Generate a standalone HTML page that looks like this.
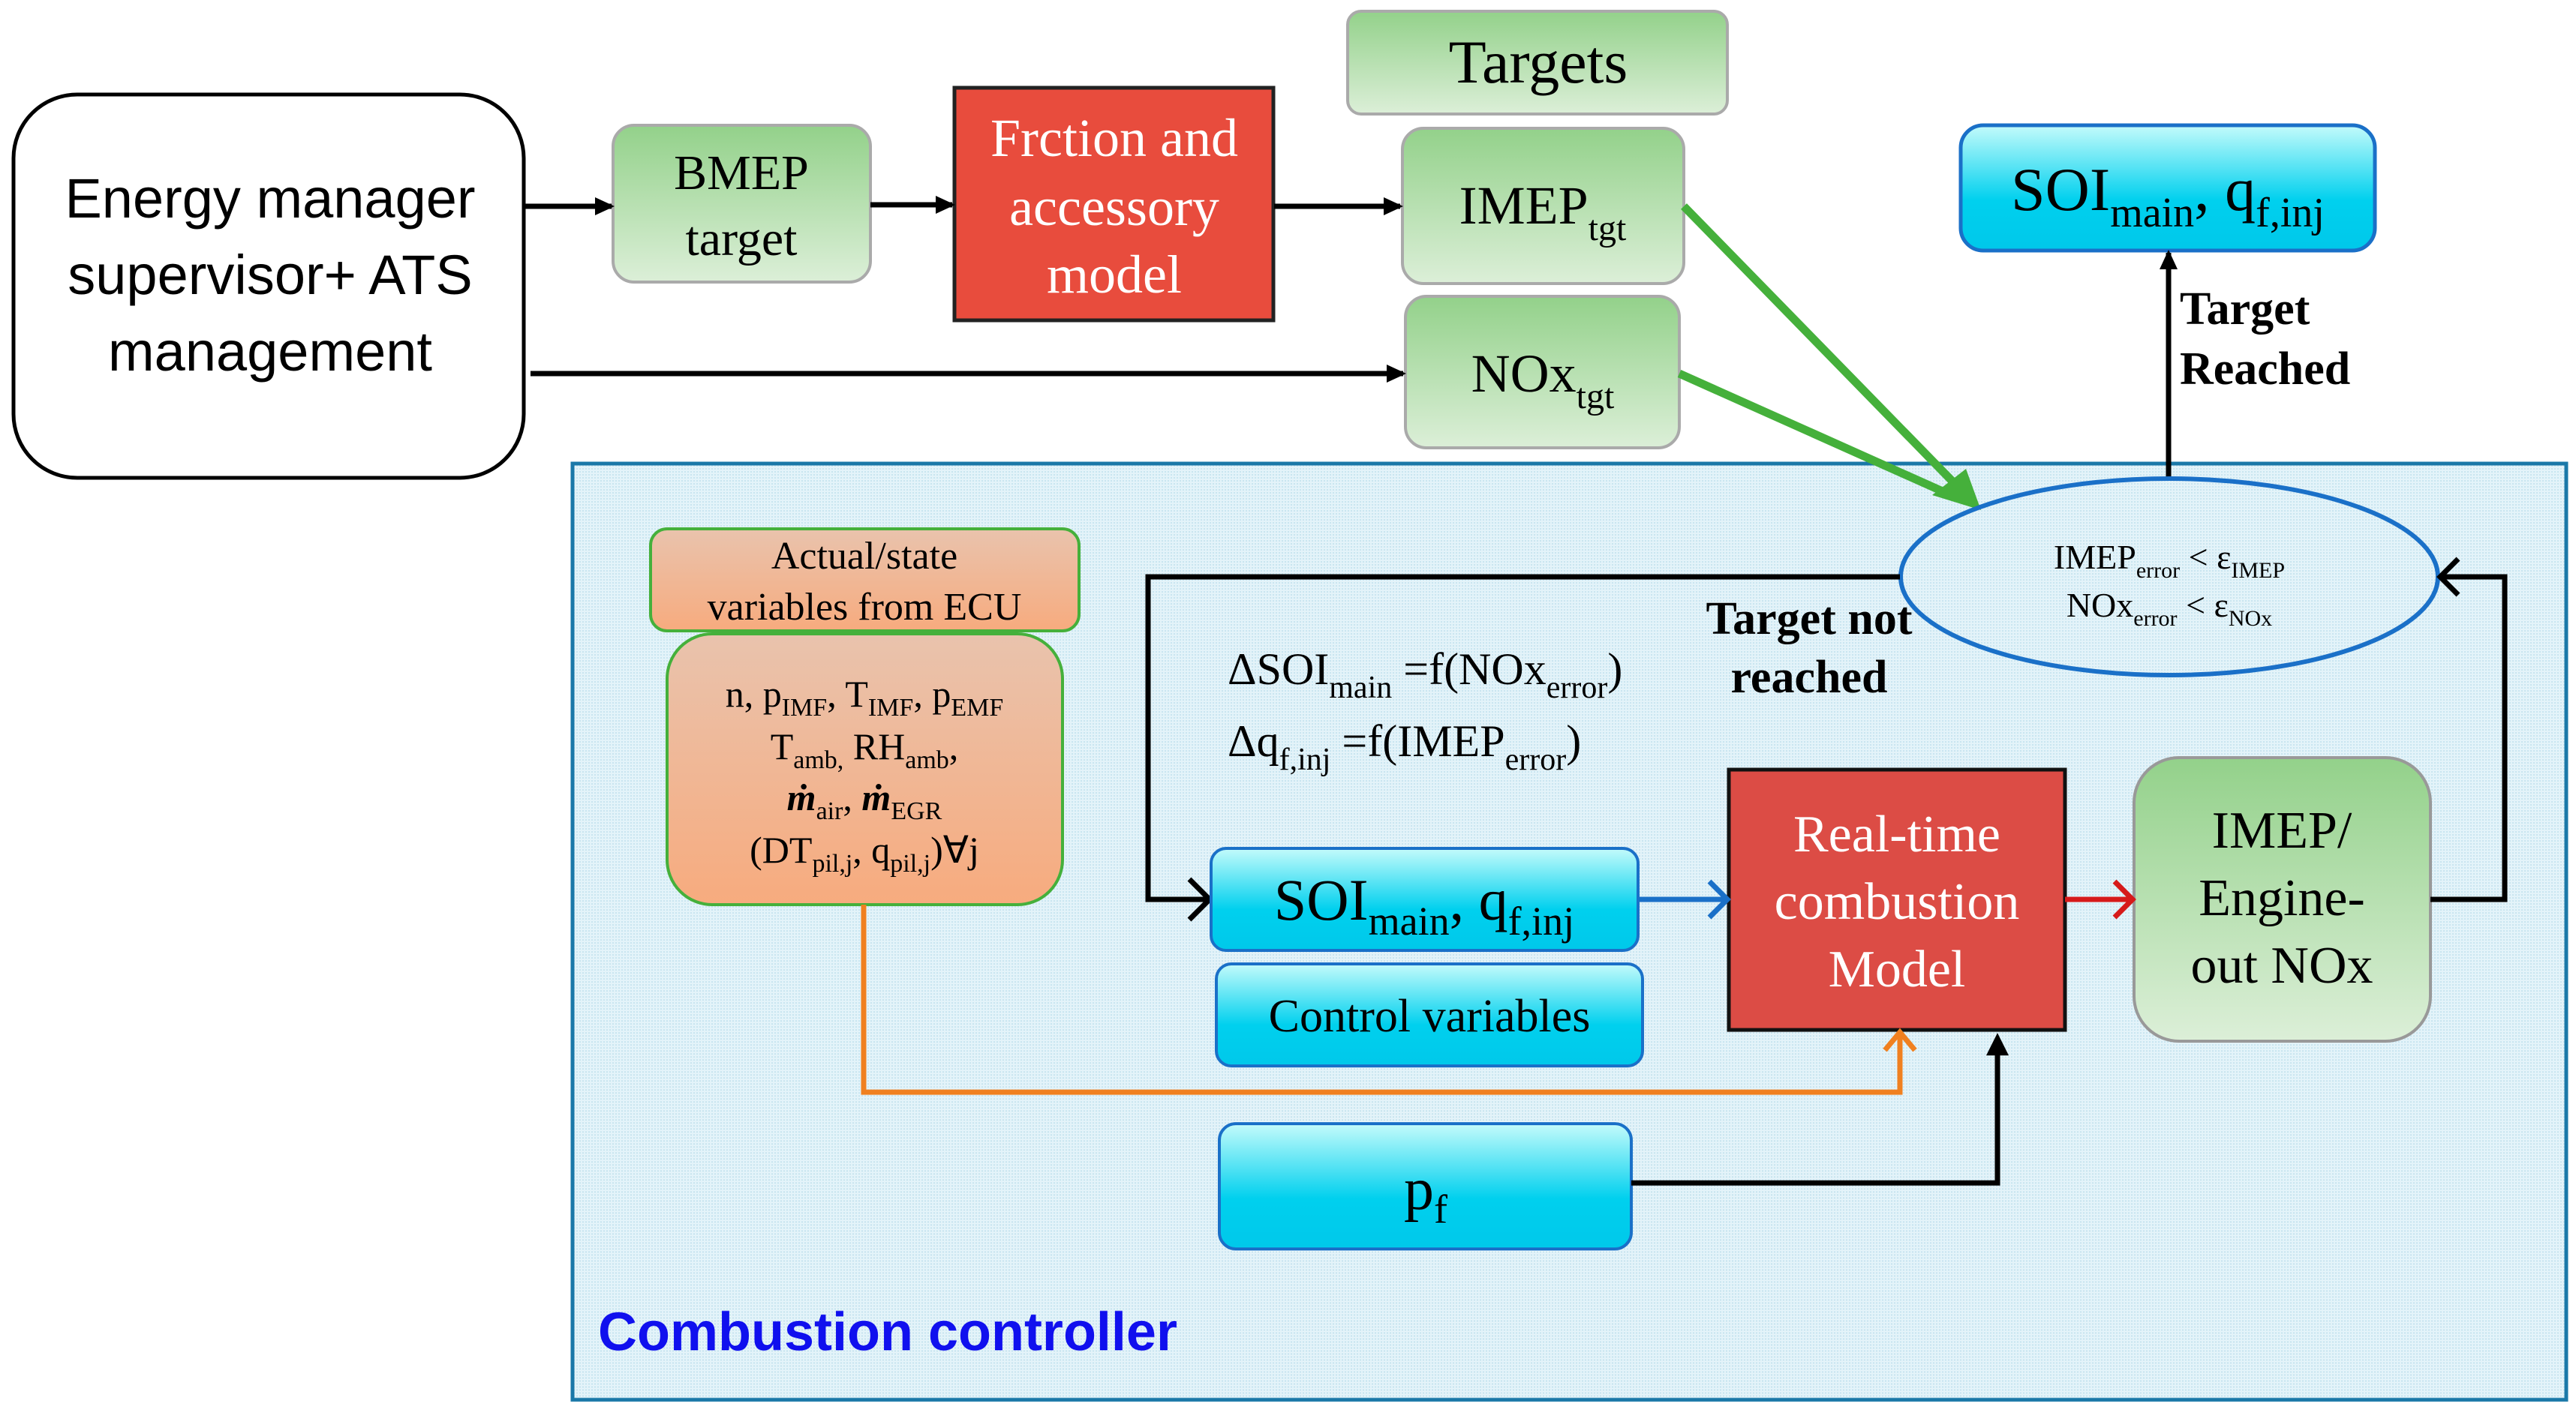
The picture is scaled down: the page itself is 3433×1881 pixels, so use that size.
<!DOCTYPE html>
<html><head><meta charset="utf-8"><style>
html,body{margin:0;padding:0;background:#fff}
svg{display:block}
.s{font-family:"Liberation Serif",serif}
.a{font-family:"Liberation Sans",sans-serif}
</style></head><body>
<svg width="3433" height="1881" viewBox="0 0 3433 1881" xmlns="http://www.w3.org/2000/svg">
<defs>
<linearGradient id="g" x1="0" y1="0" x2="0" y2="1"><stop offset="0" stop-color="#93d18a"/><stop offset="1" stop-color="#dcefd8"/></linearGradient>
<linearGradient id="c" x1="0" y1="0" x2="0" y2="1"><stop offset="0" stop-color="#c4fbfb"/><stop offset="0.6" stop-color="#00d0ee"/><stop offset="1" stop-color="#00c8ea"/></linearGradient>
<linearGradient id="o" x1="0" y1="0" x2="0" y2="1"><stop offset="0" stop-color="#e9c3ad"/><stop offset="1" stop-color="#f7ab7e"/></linearGradient>
<pattern id="dots" width="4" height="4" patternUnits="userSpaceOnUse"><rect width="4" height="4" fill="#e3f3f9"/><rect width="2" height="2" fill="#c9e5f0"/></pattern>
<marker id="ak" markerWidth="26" markerHeight="24" refX="22" refY="12" orient="auto" markerUnits="userSpaceOnUse" viewBox="0 0 26 24"><path d="M0,0 L26,12 L0,24 z" fill="#000"/></marker>
</defs>

<rect x="763" y="618" width="2657" height="1248" fill="url(#dots)" stroke="#1a78a8" stroke-width="5"/>

<rect x="18" y="126" width="680" height="511" rx="85" fill="#fff" stroke="#000" stroke-width="5"/>
<g class="a" font-size="74" text-anchor="middle" fill="#000">
<text x="360" y="290">Energy manager</text>
<text x="360" y="392">supervisor+ ATS</text>
<text x="360" y="494">management</text>
</g>

<rect x="817" y="167" width="343" height="209" rx="28" fill="url(#g)" stroke="#aaa" stroke-width="4"/>
<g class="s" font-size="66" text-anchor="middle"><text x="988" y="252">BMEP</text><text x="988" y="340">target</text></g>

<rect x="1272" y="117" width="425" height="310" fill="#e84c3d" stroke="#222" stroke-width="5"/>
<g class="s" font-size="72" text-anchor="middle" fill="#fff"><text x="1485" y="208">Frction and</text><text x="1485" y="300">accessory</text><text x="1485" y="390">model</text></g>

<rect x="1796" y="15" width="506" height="137" rx="18" fill="url(#g)" stroke="#aaa" stroke-width="4"/>
<text class="s" x="2050" y="110" font-size="82" text-anchor="middle">Targets</text>

<rect x="1869" y="171" width="375" height="207" rx="28" fill="url(#g)" stroke="#aaa" stroke-width="4"/>
<text class="s" x="2056" y="298" font-size="72" text-anchor="middle">IMEP<tspan font-size="48" dy="22">tgt</tspan></text>

<rect x="1873" y="395" width="365" height="202" rx="28" fill="url(#g)" stroke="#aaa" stroke-width="4"/>
<text class="s" x="2056" y="522" font-size="72" text-anchor="middle">NOx<tspan font-size="48" dy="22">tgt</tspan></text>

<rect x="2613" y="167" width="552" height="167" rx="30" fill="url(#c)" stroke="#1a70c8" stroke-width="5"/>
<text class="s" x="2889" y="280" font-size="82" text-anchor="middle">SOI<tspan font-size="56" dy="22">main</tspan><tspan dy="-22">, q</tspan><tspan font-size="56" dy="22">f,inj</tspan></text>

<g stroke="#000" stroke-width="7" fill="none" marker-end="url(#ak)">
<line x1="698" y1="275" x2="815" y2="275"/>
<line x1="1160" y1="273" x2="1269" y2="273"/>
<line x1="1698" y1="275" x2="1866" y2="275"/>
<line x1="707" y1="498" x2="1870" y2="498"/>
<line x1="2890" y1="637" x2="2890" y2="337"/>
</g>
<g stroke="#45b03b" stroke-width="11" fill="none">
<line x1="2244" y1="275" x2="2615" y2="655"/>
<line x1="2238" y1="498" x2="2600" y2="660"/>
</g>
<path d="M2640,680 L2575,660 L2620,625 z" fill="#45b03b"/>

<text class="s" x="2905" y="432" font-size="62" font-weight="bold">Target</text>
<text class="s" x="2905" y="512" font-size="62" font-weight="bold">Reached</text>

<ellipse cx="2891" cy="769" rx="358" ry="131" fill="none" stroke="#1a70c8" stroke-width="6"/>
<g class="s" font-size="46" text-anchor="middle">
<text x="2891" y="758">IMEP<tspan font-size="30" dy="12">error</tspan><tspan dy="-12"> &lt; ε</tspan><tspan font-size="30" dy="12">IMEP</tspan></text>
<text x="2891" y="822">NOx<tspan font-size="30" dy="12">error</tspan><tspan dy="-12"> &lt; ε</tspan><tspan font-size="30" dy="12">NOx</tspan></text>
</g>

<polyline points="2532,769 1530,769 1530,1199 1608,1199" fill="none" stroke="#000" stroke-width="7"/>
<polyline points="1585,1172 1612,1199 1585,1226" fill="none" stroke="#000" stroke-width="7"/>
<text class="s" x="2411" y="845" font-size="62" font-weight="bold" text-anchor="middle">Target not</text>
<text class="s" x="2411" y="923" font-size="62" font-weight="bold" text-anchor="middle">reached</text>

<g class="s" font-size="60">
<text x="1636" y="912">ΔSOI<tspan font-size="42" dy="18">main</tspan><tspan dy="-18"> =f(NOx</tspan><tspan font-size="42" dy="18">error</tspan><tspan dy="-18">)</tspan></text>
<text x="1636" y="1008">Δq<tspan font-size="42" dy="18">f,inj</tspan><tspan dy="-18"> =f(IMEP</tspan><tspan font-size="42" dy="18">error</tspan><tspan dy="-18">)</tspan></text>
</g>

<rect x="867" y="705" width="571" height="136" rx="22" fill="url(#o)" stroke="#45b03b" stroke-width="4"/>
<g class="s" font-size="52" text-anchor="middle"><text x="1152" y="758">Actual/state</text><text x="1152" y="826">variables from ECU</text></g>
<rect x="889" y="845" width="527" height="361" rx="60" fill="url(#o)" stroke="#45b03b" stroke-width="4"/>
<g class="s" font-size="50" text-anchor="middle">
<text x="1152" y="942">n, p<tspan font-size="34" dy="12">IMF</tspan><tspan dy="-12">, T</tspan><tspan font-size="34" dy="12">IMF</tspan><tspan dy="-12">, p</tspan><tspan font-size="34" dy="12">EMF</tspan></text>
<text x="1152" y="1012">T<tspan font-size="34" dy="12">amb,</tspan><tspan dy="-12"> RH</tspan><tspan font-size="34" dy="12">amb</tspan><tspan dy="-12">,</tspan></text>
<text x="1152" y="1080"><tspan font-style="italic" font-weight="bold">ṁ</tspan><tspan font-size="34" dy="12">air</tspan><tspan dy="-12">, </tspan><tspan font-style="italic" font-weight="bold">ṁ</tspan><tspan font-size="34" dy="12">EGR</tspan></text>
<text x="1152" y="1150">(DT<tspan font-size="34" dy="12">pil,j</tspan><tspan dy="-12">, q</tspan><tspan font-size="34" dy="12">pil,j</tspan><tspan dy="-12">)∀j</tspan></text>
</g>

<rect x="1614" y="1131" width="569" height="136" rx="20" fill="url(#c)" stroke="#1a70c8" stroke-width="4"/>
<text class="s" x="1898" y="1226" font-size="78" text-anchor="middle">SOI<tspan font-size="54" dy="20">main</tspan><tspan dy="-20">, q</tspan><tspan font-size="54" dy="20">f,inj</tspan></text>
<rect x="1621" y="1285" width="568" height="136" rx="20" fill="url(#c)" stroke="#1a70c8" stroke-width="4"/>
<text class="s" x="1905" y="1375" font-size="62" text-anchor="middle">Control variables</text>

<rect x="2304" y="1026" width="448" height="347" fill="#dc4c45" stroke="#111" stroke-width="5"/>
<g class="s" font-size="70" text-anchor="middle" fill="#fff"><text x="2528" y="1135">Real-time</text><text x="2528" y="1225">combustion</text><text x="2528" y="1315">Model</text></g>

<rect x="2844" y="1010" width="395" height="378" rx="60" fill="url(#g)" stroke="#999" stroke-width="4"/>
<g class="s" font-size="70" text-anchor="middle"><text x="3041" y="1130">IMEP/</text><text x="3041" y="1220">Engine-</text><text x="3041" y="1310">out NOx</text></g>

<rect x="1625" y="1498" width="549" height="167" rx="22" fill="url(#c)" stroke="#1a70c8" stroke-width="4"/>
<text class="s" x="1900" y="1612" font-size="80" text-anchor="middle">p<tspan font-size="54" dy="18">f</tspan></text>

<line x1="2183" y1="1199" x2="2298" y2="1199" stroke="#1a70c8" stroke-width="7"/>
<polyline points="2278,1175 2302,1199 2278,1223" fill="none" stroke="#1a70c8" stroke-width="7"/>
<line x1="2752" y1="1199" x2="2838" y2="1199" stroke="#d61a1a" stroke-width="7"/>
<polyline points="2818,1175 2842,1199 2818,1223" fill="none" stroke="#d61a1a" stroke-width="7"/>
<polyline points="3239,1199 3338,1199 3338,769 3256,769" fill="none" stroke="#000" stroke-width="7"/>
<polyline points="3276,745 3252,769 3276,793" fill="none" stroke="#000" stroke-width="7"/>
<polyline points="1151,1206 1151,1456 2532,1456 2532,1378" fill="none" stroke="#f08020" stroke-width="7"/>
<polyline points="2512,1400 2532,1376 2552,1400" fill="none" stroke="#f08020" stroke-width="7"/>
<polyline points="2174,1577 2662,1577 2662,1395" fill="none" stroke="#000" stroke-width="7"/>
<path d="M2662,1377 L2677,1407 L2647,1407 z" fill="#000"/>

<text class="a" x="797" y="1800" font-size="72" font-weight="bold" fill="#1010ee">Combustion controller</text>
</svg>
</body></html>
